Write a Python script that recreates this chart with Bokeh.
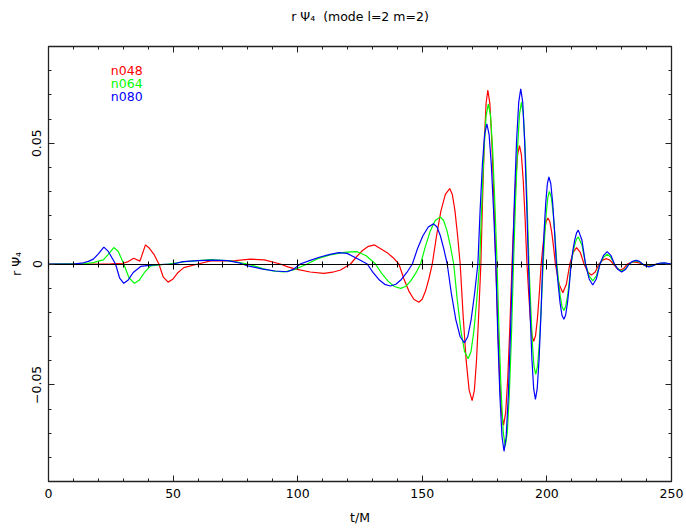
from bokeh.plotting import figure
from bokeh.models import (LinearAxis, SingleIntervalTicker, CustomJSTickFormatter,
                          Range1d, Label)
from bokeh.embed import file_html
from bokeh.resources import INLINE

TITLE = "r \u03a8\u2084\u00a0 (mode l=2 m=2)"
X_LABEL = "t/M"
Y_LABEL = "r \u03a8\u2084"

series_names = ["n048", "n064", "n080"]
series_colors = ["#ff0000", "#00ff00", "#0000ff"]

t_n048 = [0, 20, 25, 30, 32, 34.2, 36.7, 38.9, 40.5, 42.3,
          44.3, 46, 48, 50, 52, 54.3, 60, 65, 70, 75,
          81, 86.6, 93, 96, 99.8, 105, 110.5, 114, 117.2, 121.2,
          123.6, 126, 128.4, 130.8, 133, 135.9, 138.3, 140.6, 142.6, 144.6,
          146.6, 148.6, 149.95, 151.3, 152.65, 154, 155.75, 157.5, 159.25, 161,
          162.05, 163.1, 164.15, 165.2, 166.4, 167.6, 168.8, 170, 170.9, 171.75,
          172.6, 173.5, 174.2, 174.9, 175.6, 176.3, 177.1, 177.9, 178.7, 179.5,
          180.3, 181.05, 181.8, 182.6, 183.45, 184.3, 185.15, 186, 186.75, 187.5,
          188.25, 189, 189.75, 190.5, 191.25, 192, 192.7, 193.35, 194.0, 194.7,
          195.45, 196.2, 196.95, 197.7, 198.4, 199.05, 199.7, 200.4, 201.15, 201.9,
          202.65, 203.4, 204.9, 206.4, 207.8, 209.2, 210.55, 211.9, 213.4, 214.9,
          216.4, 217.9, 219.4, 220.9, 222.4, 223.9, 225.3, 226.7, 228.1, 229.5,
          230.9, 232.3, 233.65, 235, 236.5, 238, 239.5, 241, 242.5, 244,
          247, 250]
v_n048 = [0, 0, 0.0001, 0.0003, 0.001, 0.0024, 0.0012, 0.0079, 0.0065, 0.004,
          0, -0.0053, -0.0075, -0.0062, -0.0035, -0.0015, 0, 0.0013, 0.0013, 0.0014,
          0.002, 0.0017, 0, -0.0012, -0.0022, -0.0033, -0.0039, -0.0034, -0.0025, 0,
          0.003, 0.0056, 0.0073, 0.0079, 0.0065, 0.0047, 0.0026, 0, -0.0061, -0.0112,
          -0.0146, -0.0158, -0.0146, -0.0112, -0.0061, 0, 0.0119, 0.0221, 0.0288, 0.0312,
          0.0288, 0.0221, 0.0119, 0, -0.0216, -0.0399, -0.0522, -0.0565, -0.0522, -0.0399,
          -0.0216, 0, 0.0276, 0.0509, 0.0665, 0.072, 0.0665, 0.0509, 0.0276, 0,
          -0.0255, -0.0472, -0.0616, -0.0667, -0.0616, -0.0472, -0.0255, 0, 0.0188, 0.0346,
          0.0453, 0.049, 0.0453, 0.0346, 0.0188, 0, -0.0123, -0.0226, -0.0296, -0.032,
          -0.0296, -0.0226, -0.0123, 0, 0.0073, 0.0134, 0.0176, 0.019, 0.0176, 0.0134,
          0.0073, 0, -0.0084, -0.0119, -0.0084, 0, 0.0048, 0.0068, 0.0048, 0,
          -0.0033, -0.0046, -0.0033, 0, 0.0016, 0.0022, 0.0016, 0, -0.0018, -0.0025,
          -0.0018, 0, 0.0006, 0.0009, 0.0006, 0, -0.0006, -0.0008, -0.0006, 0,
          0.0003, 0]

t_n064 = [0, 15, 18, 20, 22, 24, 26.2, 28, 30.2, 32.3,
          34.5, 36.5, 38.5, 41, 48, 55, 65, 73, 80, 86,
          90, 94.4, 99, 103.8, 108, 113, 118, 121, 123.9, 127.5,
          131.2, 133.7, 136.25, 138.8, 141.3, 143.3, 145.3, 147.3, 149.3, 151.3,
          153.25, 155.2, 157.2, 158.55, 159.9, 161.25, 162.6, 164.05, 165.5, 166.95,
          168.4, 169.55, 170.7, 171.85, 173, 173.9, 174.75, 175.6, 176.5, 177.4,
          178.25, 179.1, 180, 180.8, 181.65, 182.5, 183.3, 184.1, 184.95, 185.8,
          186.6, 187.4, 188.2, 189.0, 189.8, 190.55, 191.3, 192.05, 192.8, 193.5,
          194.15, 194.8, 195.5, 196.25, 197.0, 197.75, 198.5, 199.1, 199.75, 200.4,
          201, 201.75, 202.5, 203.25, 204, 204.7, 205.4, 206.1, 206.8, 207.5,
          208.25, 209.0, 209.7, 210.4, 211.15, 211.9, 212.6, 214.05, 215.5, 216.95,
          218.4, 219.85, 221.3, 222.75, 224.2, 225.65, 227.1, 228.55, 230, 231.5,
          233, 234.4, 235.8, 237.1, 238.4, 239.7, 241, 242.5, 244, 245.5,
          247, 250]
v_n064 = [0, 0.0002, 0.0006, 0.0012, 0.0017, 0.004, 0.0068, 0.0052, 0, -0.0057,
          -0.008, -0.0066, -0.0035, -0.0008, 0, 0.001, 0.0018, 0.0013, 0.0, -0.0019,
          -0.0029, -0.0033, -0.0022, 0, 0.0022, 0.0038, 0.0047, 0.005, 0.0051, 0.0034,
          0, -0.0039, -0.0071, -0.0093, -0.0101, -0.0093, -0.0071, -0.0039, 0, 0.0075,
          0.0138, 0.0180, 0.0195, 0.0180, 0.0138, 0.0075, 0, -0.0150, -0.0277, -0.0362,
          -0.0392, -0.0362, -0.0277, -0.0150, 0, 0.0254, 0.0469, 0.0613, 0.0663, 0.0613,
          0.0469, 0.0254, 0, -0.0289, -0.0534, -0.0698, -0.0755, -0.0698, -0.0534, -0.0289,
          0, 0.0257, 0.0474, 0.0619, 0.067, 0.0619, 0.0474, 0.0257, 0, -0.0175,
          -0.0323, -0.0422, -0.0457, -0.0422, -0.0323, -0.0175, 0, 0.0115, 0.0212, 0.0277,
          0.030, 0.0277, 0.0212, 0.0115, 0, -0.0074, -0.0136, -0.0177, -0.0192, -0.0177,
          -0.0136, -0.0074, 0, 0.0043, 0.0079, 0.0103, 0.0112, 0.0079, 0, -0.0049,
          -0.007, -0.0049, 0, 0.0028, 0.004, 0.0028, 0, -0.0021, -0.0029, -0.0021,
          0, 0.0009, 0.0013, 0.0009, 0, -0.0007, -0.001, -0.0007, 0, 0.0003,
          0.0004, 0]

t_n080 = [0, 10, 14, 16, 18, 20, 22.2, 24, 26.9, 28.5,
          30.2, 32, 34, 37, 42, 50, 54, 60, 66, 72,
          76, 80, 86, 91, 95.8, 98.5, 101, 105, 109, 113,
          116.5, 119.8, 124, 127.9, 130.2, 132.55, 134.9, 137.2, 139.4, 141.6,
          143.8, 146, 148.1, 150.25, 152.4, 154.5, 155.9, 157.25, 158.6, 160,
          161.7, 163.45, 165.2, 166.9, 168.25, 169.6, 170.95, 172.3, 173.2, 174.1,
          175.0, 175.9, 176.8, 177.7, 178.6, 179.5, 180.3, 181.15, 182.0, 182.8,
          183.65, 184.5, 185.35, 186.2, 187.0, 187.85, 188.7, 189.5, 190.3, 191.05,
          191.8, 192.6, 193.3, 194.0, 194.7, 195.4, 196.1, 196.85, 197.6, 198.3,
          198.9, 199.55, 200.2, 200.8, 201.55, 202.3, 203.05, 203.8, 204.55, 205.3,
          206.05, 206.8, 207.5, 208.25, 209.0, 209.7, 210.4, 211.15, 211.9, 212.6,
          214.05, 215.5, 216.95, 218.4, 219.85, 221.3, 222.75, 224.2, 225.65, 227.1,
          228.55, 230, 231.5, 233, 234.4, 235.8, 237.1, 238.4, 239.65, 240.9,
          242.45, 244, 245.6, 247.2, 250]
v_n080 = [0, 0, 0.0005, 0.0011, 0.002, 0.0042, 0.0070, 0.0052, 0, -0.0057,
          -0.008, -0.0066, -0.0035, -0.001, -0.0004, 0.0, 0.001, 0.0014, 0.0016, 0.0014,
          0.0006, -0.0008, -0.0021, -0.0029, -0.0032, -0.0021, 0, 0.0015, 0.0029, 0.004,
          0.0047, 0.0044, 0.0022, 0, -0.0035, -0.0064, -0.0084, -0.0091, -0.0084, -0.0064,
          -0.0035, 0, 0.0064, 0.0117, 0.0153, 0.0166, 0.0153, 0.0117, 0.0064, 0,
          -0.0125, -0.0230, -0.0301, -0.0326, -0.0301, -0.0230, -0.0125, 0, 0.0222, 0.0410,
          0.0536, 0.058, 0.0536, 0.0410, 0.0222, 0, -0.0297, -0.0548, -0.0716, -0.0775,
          -0.0716, -0.0548, -0.0297, 0, 0.0278, 0.0513, 0.0670, 0.0725, 0.0670, 0.0513,
          0.0278, 0, -0.0214, -0.0396, -0.0517, -0.056, -0.0517, -0.0396, -0.0214, 0,
          0.0138, 0.0255, 0.0333, 0.036, 0.0333, 0.0255, 0.0138, 0, -0.0088, -0.0162,
          -0.0212, -0.0229, -0.0212, -0.0162, -0.0088, 0, 0.0054, 0.0099, 0.0129, 0.014,
          0.0099, 0, -0.0062, -0.0087, -0.0062, 0, 0.0036, 0.0051, 0.0036, 0,
          -0.0023, -0.0033, -0.0023, 0, 0.0011, 0.0015, 0.0011, 0, -0.0008, -0.0012,
          -0.0008, 0, 0.0004, 0.0005, 0]

series_t = [t_n048, t_n064, t_n080]
series_v = [v_n048, v_n064, v_n080]

FONT = "DejaVu Sans"
FS = "12.5px"

p = figure(width=686, height=528, output_backend="svg", toolbar_location=None,
           x_range=Range1d(0, 250), y_range=Range1d(-0.09, 0.09),
           x_axis_location=None, y_axis_location=None,
           min_border_left=48, min_border_right=15, min_border_top=46, min_border_bottom=47)
p.grid.visible = False
p.background_fill_color = "white"
p.border_fill_color = "white"
p.outline_line_color = "#222222"
p.outline_line_width = 1.3
p.title.text = ""

blank = CustomJSTickFormatter(code="return '';")
yfmt = CustomJSTickFormatter(code="if (Math.abs(tick) < 1e-9) return '0'; return (tick < 0 ? '\\u2212' : '') + Math.abs(tick).toFixed(2);")


def style_axis(ax, labelled):
    ax.major_tick_in = 6
    ax.major_tick_out = 0
    ax.minor_tick_in = 3
    ax.minor_tick_out = 0
    ax.axis_line_color = None
    ax.major_tick_line_color = "#222222"
    ax.minor_tick_line_color = "#222222"
    ax.major_label_text_font = FONT
    ax.major_label_text_font_size = FS if labelled else "0px"
    ax.major_label_text_color = "black"
    ax.axis_label_text_font = FONT
    ax.axis_label_text_font_size = FS
    ax.axis_label_text_font_style = "normal"
    ax.axis_label_text_color = "black"
    if not labelled:
        ax.formatter = blank
        ax.major_label_standoff = 0


xb = LinearAxis(ticker=SingleIntervalTicker(interval=50, num_minor_ticks=5), axis_label=X_LABEL)
style_axis(xb, True)
xb.major_label_standoff = 7
xb.axis_label_standoff = 9
p.add_layout(xb, "below")

# top frame ticks; the chart title is carried as this axis's label, centred over the frame
xt = LinearAxis(ticker=SingleIntervalTicker(interval=50, num_minor_ticks=5), axis_label=TITLE)
style_axis(xt, False)
xt.axis_label_standoff = 23
p.add_layout(xt, "above")

yl = LinearAxis(ticker=SingleIntervalTicker(interval=0.05, num_minor_ticks=5), axis_label=Y_LABEL,
                formatter=yfmt)
style_axis(yl, True)
yl.major_label_orientation = "vertical"
yl.major_label_standoff = 7
yl.axis_label_standoff = 6
p.add_layout(yl, "left")

yr = LinearAxis(ticker=SingleIntervalTicker(interval=0.05, num_minor_ticks=5))
style_axis(yr, False)
p.add_layout(yr, "right")

# zero line with ticks crossing it
x0 = LinearAxis(ticker=SingleIntervalTicker(interval=50, num_minor_ticks=5), fixed_location=0)
style_axis(x0, False)
x0.axis_line_color = "black"
x0.axis_line_width = 1.2
x0.major_tick_in = 5
x0.major_tick_out = 5
x0.minor_tick_in = 3
x0.minor_tick_out = 3
x0.major_tick_line_color = "black"
x0.minor_tick_line_color = "black"
p.add_layout(x0, "below")

for t, v, c in zip(series_t, series_v, series_colors):
    p.line(t, v, line_color=c, line_width=1.2)

# colored-text legend
legend_x = 25
legend_y = [0.0800, 0.0746, 0.0692]
for name, c, ly in zip(series_names, series_colors, legend_y):
    p.add_layout(Label(x=legend_x, y=ly, text=name, text_color=c, text_font=FONT,
                       text_font_size=FS, text_baseline="middle", text_align="left"))

open("out.html", "w").write(file_html(p, INLINE))
